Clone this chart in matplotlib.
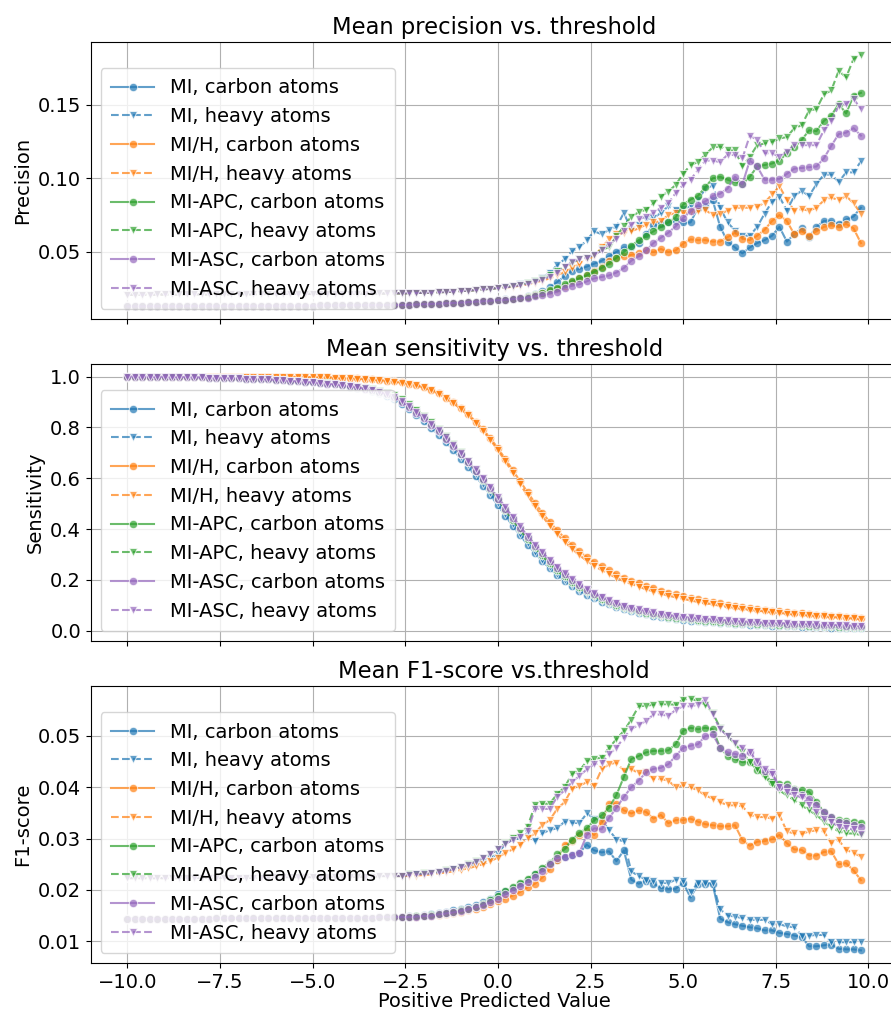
#Import the necessary libraries
import numpy as np
import matplotlib
matplotlib.use("Agg")
import matplotlib.pyplot as plt


#Threshold grid (x axis)
thresholds = np.round(np.arange(-10.0, 9.9, 0.2), 1)

methods = ["MI", "MI/H", "MI-APC", "MI-ASC"]
colors = ["#1f77b4", "#ff7f0e", "#2ca02c", "#9467bd"]


#---------------- Precision ----------------
prec_carbon_left = [0.0130, 0.0130, 0.0130, 0.0131, 0.0131, 0.0131, 0.0131, 0.0131, 0.0132, 0.0132,
                    0.0132, 0.0132, 0.0132, 0.0133, 0.0133, 0.0133, 0.0133, 0.0133, 0.0134, 0.0134,
                    0.0134, 0.0134, 0.0135, 0.0135, 0.0135, 0.0135, 0.0136, 0.0136, 0.0136, 0.0137,
                    0.0137, 0.0137, 0.0138, 0.0138, 0.0138, 0.0139, 0.0139, 0.0140,
                    0.0141, 0.0143, 0.0145, 0.0147, 0.0149, 0.0151, 0.0153, 0.0156, 0.0159, 0.0162,
                    0.0165, 0.0168, 0.0172]
prec_heavy_left = [0.0210, 0.0210, 0.0210, 0.0210, 0.0211, 0.0211, 0.0211, 0.0211, 0.0211, 0.0212,
                   0.0212, 0.0212, 0.0212, 0.0212, 0.0213, 0.0213, 0.0213, 0.0213, 0.0214, 0.0214,
                   0.0214, 0.0214, 0.0215, 0.0215, 0.0215, 0.0215, 0.0216, 0.0216, 0.0216, 0.0216,
                   0.0217, 0.0217, 0.0217, 0.0218, 0.0218, 0.0218, 0.0219, 0.0219,
                   0.0220, 0.0221, 0.0222, 0.0224, 0.0226, 0.0228, 0.0231, 0.0234, 0.0237, 0.0241,
                   0.0245, 0.0250, 0.0255]

prec_mi_carbon = [.0177, .0183, .0190, .0200, .0215, .0235, .0260, .0295, .0335, .0370,
                  .0385, .0400, .0420, .0440, .0470, .0500, .0530, .0530, .0560, .0620,
                  .0680, .0690, .0700, .0710, .0700, .0700, .0800, .0810, .0850, .0670,
                  .0570, .0530, .0490, .0530, .0560, .0580, .0610, .0670, .0570, .0620,
                  .0660, .0600, .0670, .0710, .0710, .0690, .0720, .0740, .0800]
prec_mih_carbon = [.0176, .0181, .0188, .0196, .0206, .0218, .0232, .0250, .0270, .0295,
                   .0320, .0345, .0370, .0400, .0440, .0460, .0470, .0480, .0490, .0510,
                   .0500, .0520, .0500, .0510, .0556, .0585, .0580, .0580, .0570, .0570,
                   .0600, .0630, .0590, .0580, .0610, .0650, .0710, .0750, .0710, .0620,
                   .0640, .0610, .0640, .0670, .0680, .0670, .0690, .0660, .0560]
prec_apc_carbon = [.0176, .0181, .0188, .0196, .0206, .0220, .0238, .0258, .0280, .0300,
                   .0320, .0340, .0365, .0390, .0420, .0460, .0500, .0540, .0580, .0605,
                   .0640, .0670, .0700, .0735, .0820, .0855, .0880, .0940, .1000, .1010,
                   .0990, .0975, .0960, .1010, .1080, .1090, .1100, .1120, .1170, .1210,
                   .1260, .1325, .1320, .1390, .1425, .1505, .1440, .1560, .1580]
prec_asc_carbon = [.0175, .0179, .0184, .0190, .0198, .0207, .0217, .0230, .0255, .0270,
                   .0280, .0300, .0320, .0330, .0340, .0360, .0390, .0440, .0470, .0510,
                   .0560, .0596, .0630, .0674, .0730, .0775, .0820, .0843, .0880, .0895,
                   .0930, .1010, .0960, .1120, .1080, .0990, .0990, .0995, .1030, .1065,
                   .1070, .1075, .1080, .1135, .1220, .1300, .1310, .1340, .1290]
prec_mi_heavy = [.0262, .0270, .0280, .0292, .0305, .0325, .0360, .0410, .0450, .0505,
                 .0530, .0580, .0640, .0620, .0650, .0670, .0765, .0650, .0685, .0720,
                 .0730, .0765, .0810, .0785, .0790, .0810, .0850, .0930, .0950, .0800,
                 .0700, .0645, .0610, .0610, .0670, .0760, .0840, .0875, .0780, .0880,
                 .0915, .0880, .0960, .1025, .1025, .0975, .1040, .1040, .1115]
prec_mih_heavy = [.0258, .0263, .0270, .0280, .0292, .0305, .0320, .0340, .0365, .0390,
                  .0420, .0450, .0470, .0530, .0585, .0620, .0630, .0640, .0660, .0685,
                  .0700, .0710, .0750, .0765, .0765, .0770, .0775, .0785, .0750, .0760,
                  .0780, .0800, .0800, .0800, .0805, .0835, .0890, .0945, .0855, .0780,
                  .0790, .0780, .0800, .0850, .0870, .0850, .0880, .0830, .0760]
prec_apc_heavy = [.0260, .0267, .0276, .0287, .0300, .0318, .0340, .0370, .0400, .0427,
                  .0450, .0460, .0480, .0517, .0530, .0607, .0674, .0740, .0769, .0787,
                  .0830, .0876, .0910, .0955, .1030, .1090, .1110, .1160, .1210, .1215,
                  .1190, .1190, .1080, .1146, .1225, .1236, .1247, .1270, .1280, .1340,
                  .1360, .1460, .1470, .1570, .1596, .1730, .1685, .1810, .1840]
prec_asc_heavy = [.0259, .0265, .0273, .0283, .0295, .0312, .0332, .0360, .0400, .0430,
                  .0450, .0460, .0480, .0510, .0550, .0590, .0640, .0685, .0720, .0740,
                  .0764, .0800, .0830, .0900, .0955, .0990, .1056, .1120, .1120, .1110,
                  .1160, .1157, .1135, .1290, .1260, .1170, .1170, .1146, .1180, .1225,
                  .1225, .1225, .1225, .1326, .1390, .1490, .1506, .1540, .1470]


#---------------- Sensitivity ----------------
sens_mi_carbon = [1.000, 1.000, 0.999, 0.999, 0.999, 0.999, 0.998, 0.998, 0.998, 0.997,
                  0.997, 0.996, 0.996, 0.995, 0.994, 0.993, 0.992, 0.991, 0.990, 0.989,
                  0.987, 0.985, 0.983, 0.981, 0.979, 0.977, 0.975, 0.972, 0.969, 0.965,
                  0.960, 0.955, 0.950, 0.943, 0.935, 0.925, 0.912, 0.893, 0.872, 0.849,
                  0.824, 0.798, 0.771, 0.741, 0.710, 0.677, 0.643, 0.608, 0.571, 0.533,
                  0.493, 0.452, 0.413, 0.375, 0.339, 0.305, 0.274, 0.245, 0.219, 0.196,
                  0.175, 0.157, 0.141, 0.127, 0.114, 0.103, 0.093, 0.084, 0.076, 0.070,
                  0.064, 0.059, 0.054, 0.050, 0.046, 0.043, 0.040, 0.037, 0.035, 0.033,
                  0.031, 0.029, 0.027, 0.025, 0.024, 0.022, 0.021, 0.020, 0.019, 0.018,
                  0.017, 0.016, 0.015, 0.014, 0.013, 0.012, 0.011, 0.010, 0.010, 0.009]
sens_mi_heavy = [1.000, 1.000, 1.000, 0.999, 0.999, 0.999, 0.998, 0.998, 0.998, 0.997,
                 0.997, 0.996, 0.996, 0.995, 0.994, 0.993, 0.992, 0.991, 0.990, 0.989,
                 0.987, 0.985, 0.983, 0.981, 0.979, 0.977, 0.975, 0.972, 0.969, 0.966,
                 0.962, 0.957, 0.952, 0.946, 0.938, 0.929, 0.917, 0.899, 0.879, 0.857,
                 0.832, 0.806, 0.779, 0.749, 0.718, 0.685, 0.651, 0.616, 0.579, 0.541,
                 0.501, 0.460, 0.420, 0.382, 0.345, 0.311, 0.280, 0.250, 0.224, 0.200,
                 0.179, 0.160, 0.144, 0.129, 0.116, 0.105, 0.095, 0.086, 0.078, 0.071,
                 0.065, 0.060, 0.055, 0.051, 0.047, 0.044, 0.041, 0.038, 0.036, 0.034,
                 0.032, 0.030, 0.028, 0.026, 0.025, 0.023, 0.022, 0.021, 0.020, 0.019,
                 0.018, 0.017, 0.016, 0.015, 0.014, 0.013, 0.012, 0.011, 0.011, 0.010]
sens_mih_carbon = [1.000, 1.000, 1.000, 1.000, 1.000, 1.000, 1.000, 1.000, 1.000, 1.000,
                   1.000, 1.000, 1.000, 1.000, 1.000, 1.000, 1.000, 1.000, 1.000, 1.000,
                   0.999, 0.999, 0.999, 0.999, 0.998, 0.998, 0.997, 0.997, 0.996, 0.995,
                   0.994, 0.993, 0.991, 0.989, 0.987, 0.984, 0.981, 0.977, 0.972, 0.966,
                   0.958, 0.948, 0.934, 0.917, 0.898, 0.876, 0.852, 0.823, 0.792, 0.757,
                   0.718, 0.676, 0.632, 0.588, 0.545, 0.503, 0.464, 0.428, 0.395, 0.365,
                   0.337, 0.312, 0.290, 0.270, 0.253, 0.237, 0.222, 0.209, 0.197, 0.186,
                   0.176, 0.167, 0.158, 0.150, 0.143, 0.136, 0.129, 0.123, 0.117, 0.112,
                   0.107, 0.102, 0.097, 0.093, 0.089, 0.085, 0.082, 0.079, 0.076, 0.073,
                   0.070, 0.068, 0.065, 0.063, 0.061, 0.059, 0.057, 0.055, 0.053, 0.050]
sens_mih_heavy = [1.000, 1.000, 1.000, 1.000, 1.000, 1.000, 1.000, 1.000, 1.000, 1.000,
                  1.000, 1.000, 1.000, 1.000, 1.000, 1.000, 1.000, 1.000, 1.000, 1.000,
                  0.999, 0.999, 0.999, 0.999, 0.998, 0.998, 0.997, 0.997, 0.996, 0.995,
                  0.994, 0.992, 0.990, 0.988, 0.986, 0.983, 0.980, 0.976, 0.971, 0.965,
                  0.957, 0.946, 0.932, 0.915, 0.895, 0.872, 0.847, 0.818, 0.786, 0.750,
                  0.710, 0.667, 0.621, 0.576, 0.532, 0.490, 0.450, 0.413, 0.380, 0.350,
                  0.322, 0.297, 0.275, 0.255, 0.238, 0.222, 0.208, 0.195, 0.184, 0.173,
                  0.163, 0.154, 0.146, 0.138, 0.131, 0.125, 0.119, 0.113, 0.108, 0.103,
                  0.098, 0.094, 0.090, 0.086, 0.082, 0.079, 0.076, 0.073, 0.070, 0.067,
                  0.064, 0.062, 0.060, 0.058, 0.056, 0.054, 0.052, 0.050, 0.048, 0.045]
sens_apc_carbon = [1.000, 1.000, 0.999, 0.999, 0.999, 0.999, 0.998, 0.998, 0.998, 0.997,
                   0.997, 0.996, 0.996, 0.995, 0.994, 0.993, 0.992, 0.991, 0.990, 0.989,
                   0.987, 0.985, 0.983, 0.981, 0.979, 0.977, 0.975, 0.973, 0.970, 0.967,
                   0.963, 0.959, 0.954, 0.948, 0.941, 0.933, 0.922, 0.905, 0.886, 0.864,
                   0.840, 0.815, 0.789, 0.760, 0.729, 0.697, 0.664, 0.630, 0.594, 0.557,
                   0.517, 0.476, 0.437, 0.399, 0.362, 0.328, 0.297, 0.267, 0.240, 0.215,
                   0.193, 0.173, 0.155, 0.139, 0.125, 0.112, 0.101, 0.092, 0.084, 0.077,
                   0.071, 0.065, 0.060, 0.055, 0.051, 0.048, 0.045, 0.042, 0.040, 0.038,
                   0.036, 0.034, 0.032, 0.030, 0.029, 0.027, 0.026, 0.025, 0.024, 0.023,
                   0.022, 0.021, 0.020, 0.019, 0.018, 0.017, 0.016, 0.015, 0.014, 0.013]
sens_apc_heavy = [1.000, 1.000, 1.000, 0.999, 0.999, 0.999, 0.998, 0.998, 0.998, 0.997,
                  0.997, 0.996, 0.996, 0.995, 0.994, 0.993, 0.992, 0.991, 0.990, 0.989,
                  0.987, 0.985, 0.983, 0.981, 0.979, 0.977, 0.975, 0.973, 0.970, 0.967,
                  0.964, 0.960, 0.956, 0.950, 0.944, 0.936, 0.926, 0.910, 0.892, 0.870,
                  0.846, 0.821, 0.795, 0.766, 0.735, 0.702, 0.668, 0.633, 0.596, 0.558,
                  0.517, 0.475, 0.435, 0.396, 0.359, 0.325, 0.293, 0.263, 0.236, 0.211,
                  0.189, 0.169, 0.151, 0.135, 0.121, 0.109, 0.098, 0.089, 0.081, 0.074,
                  0.068, 0.062, 0.057, 0.053, 0.049, 0.046, 0.043, 0.040, 0.038, 0.036,
                  0.034, 0.032, 0.030, 0.028, 0.027, 0.025, 0.024, 0.023, 0.022, 0.021,
                  0.020, 0.019, 0.018, 0.017, 0.016, 0.015, 0.014, 0.013, 0.012, 0.012]
sens_asc_carbon = [1.000, 1.000, 0.999, 0.999, 0.999, 0.999, 0.998, 0.998, 0.998, 0.997,
                   0.997, 0.996, 0.996, 0.995, 0.994, 0.993, 0.992, 0.991, 0.990, 0.989,
                   0.987, 0.985, 0.983, 0.981, 0.979, 0.977, 0.975, 0.972, 0.969, 0.965,
                   0.961, 0.957, 0.952, 0.946, 0.939, 0.930, 0.918, 0.900, 0.880, 0.858,
                   0.835, 0.810, 0.785, 0.755, 0.725, 0.694, 0.662, 0.630, 0.595, 0.560,
                   0.520, 0.480, 0.442, 0.405, 0.368, 0.335, 0.305, 0.275, 0.247, 0.222,
                   0.200, 0.180, 0.162, 0.146, 0.131, 0.118, 0.107, 0.098, 0.090, 0.083,
                   0.077, 0.071, 0.066, 0.061, 0.057, 0.054, 0.051, 0.048, 0.046, 0.044,
                   0.042, 0.040, 0.038, 0.036, 0.034, 0.033, 0.031, 0.030, 0.029, 0.028,
                   0.027, 0.026, 0.025, 0.024, 0.023, 0.022, 0.021, 0.020, 0.019, 0.018]
sens_asc_heavy = [1.000, 1.000, 1.000, 0.999, 0.999, 0.999, 0.998, 0.998, 0.998, 0.997,
                  0.997, 0.996, 0.996, 0.995, 0.994, 0.993, 0.992, 0.991, 0.990, 0.989,
                  0.987, 0.985, 0.983, 0.981, 0.979, 0.977, 0.975, 0.972, 0.969, 0.966,
                  0.962, 0.958, 0.953, 0.947, 0.940, 0.931, 0.920, 0.903, 0.884, 0.862,
                  0.839, 0.815, 0.790, 0.761, 0.731, 0.700, 0.668, 0.636, 0.601, 0.566,
                  0.526, 0.486, 0.447, 0.410, 0.373, 0.339, 0.308, 0.278, 0.250, 0.225,
                  0.202, 0.182, 0.164, 0.148, 0.133, 0.120, 0.109, 0.099, 0.091, 0.084,
                  0.078, 0.072, 0.067, 0.062, 0.058, 0.055, 0.052, 0.049, 0.047, 0.045,
                  0.043, 0.041, 0.039, 0.037, 0.035, 0.033, 0.032, 0.031, 0.030, 0.029,
                  0.028, 0.027, 0.026, 0.025, 0.024, 0.023, 0.022, 0.021, 0.020, 0.019]


#---------------- F1-score ----------------
f1_carbon_left = [0.0144, 0.0144, 0.0144, 0.0144, 0.0144, 0.0144, 0.0144, 0.0144, 0.0144, 0.0144,
                  0.0144, 0.0144, 0.0145, 0.0145, 0.0145, 0.0145, 0.0145, 0.0145, 0.0145, 0.0145,
                  0.0145, 0.0145, 0.0145, 0.0145, 0.0146, 0.0146, 0.0146, 0.0146, 0.0146, 0.0146,
                  0.0146, 0.0146, 0.0146, 0.0146, 0.0147, 0.0147, 0.0147, 0.0147]
f1_heavy_left = [0.0223, 0.0223, 0.0223, 0.0223, 0.0223, 0.0223, 0.0223, 0.0223, 0.0223, 0.0223,
                 0.0224, 0.0224, 0.0224, 0.0224, 0.0224, 0.0224, 0.0224, 0.0224, 0.0224, 0.0224,
                 0.0225, 0.0225, 0.0225, 0.0225, 0.0225, 0.0225, 0.0225, 0.0225, 0.0226, 0.0226,
                 0.0226, 0.0226, 0.0226, 0.0226, 0.0227, 0.0227, 0.0227, 0.0227]

f1_mi_carbon = [.0149, .0150, .0151, .0153, .0155, .0157, .0160, .0163, .0167, .0171,
                .0176, .0183, .0191, .0197, .0204, .0212, .0220, .0230, .0240, .0250,
                .0258, .0265, .0268, .0272, .0288, .0277, .0273, .0275, .0256, .0277,
                .0220, .0212, .0218, .0212, .0204, .0202, .0202, .0214, .0185, .0211,
                .0211, .0211, .0144, .0137, .0133, .0130, .0127, .0125, .0121, .0121,
                .0116, .0114, .0111, .0108, .0090, .0090, .0092, .0093, .0085, .0084,
                .0084, .0082]
f1_mih_carbon = [.0147, .0148, .0149, .0150, .0151, .0153, .0155, .0157, .0160, .0163,
                 .0167, .0172, .0178, .0183, .0189, .0196, .0205, .0212, .0224, .0240,
                 .0259, .0288, .0295, .0307, .0314, .0307, .0333, .0368, .0368, .0355,
                 .0349, .0355, .0352, .0339, .0346, .0330, .0336, .0336, .0339, .0333,
                 .0328, .0326, .0324, .0324, .0326, .0297, .0286, .0294, .0295, .0299,
                 .0307, .0291, .0279, .0278, .0267, .0267, .0274, .0275, .0250, .0252,
                 .0238, .0219]
f1_apc_carbon = [.0148, .0149, .0150, .0151, .0153, .0155, .0157, .0160, .0163, .0167,
                 .0172, .0180, .0189, .0197, .0205, .0213, .0222, .0231, .0243, .0253,
                 .0269, .0279, .0298, .0311, .0320, .0336, .0345, .0360, .0385, .0420,
                 .0455, .0461, .0468, .0471, .0471, .0472, .0484, .0510, .0516, .0513,
                 .0516, .0513, .0477, .0461, .0455, .0449, .0449, .0434, .0426, .0410,
                 .0407, .0407, .0397, .0394, .0391, .0371, .0352, .0342, .0336, .0335,
                 .0333, .0330]
f1_asc_carbon = [.0147, .0148, .0149, .0150, .0152, .0154, .0156, .0159, .0162, .0166,
                 .0170, .0176, .0183, .0191, .0200, .0207, .0215, .0226, .0237, .0250,
                 .0262, .0265, .0268, .0272, .0307, .0320, .0318, .0340, .0360, .0381,
                 .0400, .0413, .0429, .0436, .0438, .0445, .0461, .0477, .0481, .0484,
                 .0500, .0503, .0477, .0468, .0465, .0461, .0468, .0449, .0432, .0429,
                 .0400, .0400, .0394, .0384, .0378, .0365, .0352, .0342, .0333, .0330,
                 .0326, .0323]
f1_mi_heavy = [.0229, .0230, .0231, .0233, .0235, .0237, .0240, .0243, .0247, .0251,
               .0256, .0262, .0270, .0290, .0298, .0301, .0310, .0295, .0310, .0317,
               .0320, .0333, .0331, .0330, .0349, .0339, .0336, .0317, .0298, .0295,
               .0236, .0227, .0220, .0217, .0214, .0213, .0220, .0217, .0195, .0214,
               .0213, .0213, .0162, .0150, .0148, .0145, .0142, .0141, .0142, .0133,
               .0133, .0129, .0127, .0111, .0111, .0112, .0112, .0098, .0098, .0098,
               .0098, .0098]
f1_mih_heavy = [.0227, .0228, .0229, .0230, .0232, .0234, .0236, .0239, .0242, .0246,
                .0250, .0256, .0263, .0272, .0279, .0288, .0301, .0310, .0327, .0336,
                .0358, .0371, .0397, .0403, .0410, .0403, .0435, .0445, .0448, .0432,
                .0436, .0427, .0429, .0416, .0416, .0413, .0400, .0404, .0400, .0394,
                .0384, .0378, .0371, .0365, .0365, .0363, .0346, .0342, .0342, .0339,
                .0346, .0314, .0310, .0309, .0314, .0316, .0314, .0291, .0297, .0278,
                .0272, .0265]
f1_apc_heavy = [.0230, .0231, .0232, .0233, .0235, .0238, .0241, .0245, .0250, .0256,
                .0262, .0270, .0279, .0291, .0301, .0310, .0323, .0365, .0368, .0368,
                .0387, .0400, .0426, .0432, .0451, .0455, .0458, .0477, .0494, .0510,
                .0532, .0558, .0559, .0561, .0562, .0562, .0561, .0571, .0573, .0568,
                .0561, .0545, .0516, .0500, .0484, .0468, .0449, .0436, .0420, .0407,
                .0394, .0384, .0375, .0365, .0355, .0346, .0333, .0323, .0314, .0310,
                .0310, .0307]
f1_asc_heavy = [.0229, .0230, .0231, .0232, .0234, .0237, .0240, .0244, .0249, .0255,
                .0262, .0270, .0279, .0289, .0298, .0304, .0314, .0358, .0358, .0358,
                .0381, .0394, .0410, .0422, .0435, .0445, .0447, .0464, .0477, .0497,
                .0513, .0522, .0529, .0542, .0542, .0539, .0551, .0558, .0558, .0561,
                .0571, .0542, .0513, .0500, .0487, .0477, .0468, .0452, .0436, .0426,
                .0400, .0391, .0384, .0381, .0365, .0352, .0339, .0333, .0323, .0320,
                .0318, .0309]


#Putting the series together per panel (carbon, heavy for each method)
precision = {
    "MI": (prec_carbon_left + prec_mi_carbon, prec_heavy_left + prec_mi_heavy),
    "MI/H": (prec_carbon_left + prec_mih_carbon, prec_heavy_left + prec_mih_heavy),
    "MI-APC": (prec_carbon_left + prec_apc_carbon, prec_heavy_left + prec_apc_heavy),
    "MI-ASC": (prec_carbon_left + prec_asc_carbon, prec_heavy_left + prec_asc_heavy),
}
sensitivity = {
    "MI": (sens_mi_carbon, sens_mi_heavy),
    "MI/H": (sens_mih_carbon, sens_mih_heavy),
    "MI-APC": (sens_apc_carbon, sens_apc_heavy),
    "MI-ASC": (sens_asc_carbon, sens_asc_heavy),
}
f1score = {
    "MI": (f1_carbon_left + f1_mi_carbon, f1_heavy_left + f1_mi_heavy),
    "MI/H": (f1_carbon_left + f1_mih_carbon, f1_heavy_left + f1_mih_heavy),
    "MI-APC": (f1_carbon_left + f1_apc_carbon, f1_heavy_left + f1_apc_heavy),
    "MI-ASC": (f1_carbon_left + f1_asc_carbon, f1_heavy_left + f1_asc_heavy),
}

panels = [
    (precision, "Mean precision vs. threshold", "Precision"),
    (sensitivity, "Mean sensitivity vs. threshold", "Sensitivity"),
    (f1score, "Mean F1-score vs.threshold", "F1-score"),
]


#Drawing the figure
plt.rcParams["font.size"] = 14
fig = plt.figure(figsize=(8.91, 10.11), dpi=100)

axes = []
bottoms = [0.6845, 0.366, 0.0475]
for k, (data, title, ylabel) in enumerate(panels):
    if k == 0:
        ax = fig.add_axes([0.1019, bottoms[k], 0.9055, 0.274])
    else:
        ax = fig.add_axes([0.1019, bottoms[k], 0.9055, 0.274], sharex=axes[0])
    axes.append(ax)
    for name, color in zip(methods, colors):
        carbon, heavy = data[name]
        ax.plot(thresholds, carbon, color=color, linestyle="-", marker="o",
                markersize=6, markeredgecolor="white", markeredgewidth=0.75,
                linewidth=1.5, alpha=0.7, label=name + ", carbon atoms")
        ax.plot(thresholds, heavy, color=color, linestyle="--", marker="v",
                markersize=6, markeredgecolor="white", markeredgewidth=0.75,
                linewidth=1.5, alpha=0.7, label=name + ", heavy atoms")
    ax.set_title(title, fontsize=16.3)
    ax.set_ylabel(ylabel)
    ax.grid(True)
    ax.legend(loc="lower left", fontsize=14, handlelength=2.2, borderpad=0.55)
    if k < 2:
        plt.setp(ax.get_xticklabels(), visible=False)

axes[-1].set_xlabel("Positive Predicted Value", labelpad=0)

plt.savefig("out.png", dpi=100)
